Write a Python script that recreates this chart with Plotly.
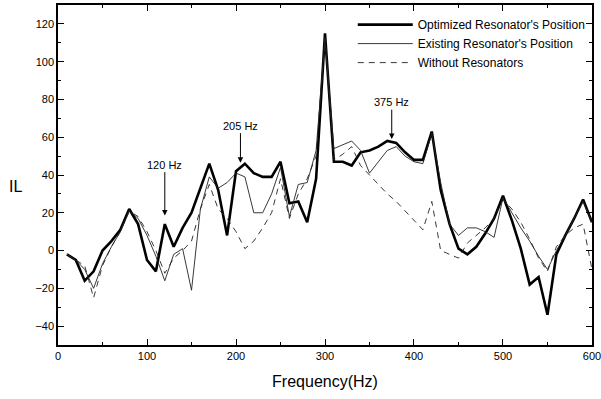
import plotly.graph_objects as go

freq = list(range(10, 601, 10))

optimized = [-2, -5, -16, -11, 0, 5, 11, 22, 14, -5, -11, 14, 2, 12, 20, 33, 46, 32, 8, 42,
             46, 41, 39, 39, 47, 25, 26, 15, 38, 115, 47, 47, 45, 52, 53, 55, 58, 57, 52, 48,
             48, 63, 32, 14, 1, -2, 2, 9, 17, 29, 16, 1, -18, -14, -34, -2, 8, 17, 27, 15]

existing = [-2, -5, -10, -20, -7, 2, 10, 21, 17, 8, -3, -16, -2, 1, -21, 22, 39, 33, 36, 41,
            39, 20, 20, 30, 44, 18, 35, 36, 53, 112, 54, 56, 58, 53, 41, 47, 53, 55, 50, 47,
            46, 62, 36, 14, 8, 12, 12, 10, 7, 28, 20, 12, 5, -3, -10, 0, 8, 17, 26, 15]

without = [-2, -5, -8, -25, -8, 2, 10, 21, 18, 10, 0, -12, -4, 0, 5, 22, 35, 22, 17, 10,
           1, 5, 12, 20, 38, 17, 30, 38, 50, 113, 48, 51, 55, 45, 40, 35, 30, 26, 21, 16,
           11, 26, 0, -2, -4, 4, 8, 12, 17, 27, 22, 15, 6, -4, -11, 2, 8, 12, 14, -10]

annot_freq = [120, 205, 375]
annot_val = [18, 46, 58.5]
annot_text = ["120 Hz", "205 Hz", "375 Hz"]
annot_len = [-52, -38, -38]

x_ticks = [0, 100, 200, 300, 400, 500, 600]
y_ticks = [-40, -20, 0, 20, 40, 60, 80, 100, 120]

FONT = "Liberation Sans, Arial, sans-serif"

fig = go.Figure()
fig.add_trace(go.Scatter(x=freq, y=optimized, mode="lines", name="Optimized Resonator's Position",
                         line=dict(color="black", width=2.6)))
fig.add_trace(go.Scatter(x=freq, y=existing, mode="lines", name="Existing Resonator's Position",
                         line=dict(color="#222", width=0.9)))
fig.add_trace(go.Scatter(x=freq, y=without, mode="lines", name="Without Resonators",
                         line=dict(color="#222", width=0.9, dash="6px,5px")))

for f, v, t, a in zip(annot_freq, annot_val, annot_text, annot_len):
    fig.add_annotation(x=f, y=v, text=t, showarrow=True, arrowhead=2, arrowsize=1.1,
                       arrowwidth=1, arrowcolor="black", ax=0, ay=a, standoff=1,
                       font=dict(family=FONT, size=11, color="black"))

fig.add_annotation(x=-0.079, y=0.465, xref="paper", yref="paper", text="IL", showarrow=False,
                   xanchor="center", yanchor="middle",
                   font=dict(family=FONT, size=16, color="black"))

axis_common = dict(showline=True, linecolor="black", linewidth=1.5, mirror="ticks",
                   ticks="inside", ticklen=6, tickcolor="black", showgrid=False, zeroline=False,
                   automargin=False,
                   tickfont=dict(family=FONT, size=11, color="black"))

fig.update_xaxes(range=[0, 600.01], tickvals=x_ticks, ticklabeloverflow="allow",
                 minor=dict(ticks="inside", ticklen=3, dtick=50, tickcolor="black"),
                 title=dict(text="Frequency(Hz)", font=dict(family=FONT, size=16, color="black"),
                            standoff=15),
                 **axis_common)
fig.update_yaxes(range=[-50, 130], tickvals=y_ticks,
                 minor=dict(ticks="inside", ticklen=3, dtick=10, tickcolor="black"),
                 **axis_common)

fig.update_layout(
    width=601, height=399,
    margin=dict(l=58, r=9, t=5, b=54),
    paper_bgcolor="white", plot_bgcolor="white",
    showlegend=True,
    legend=dict(x=0.552, y=0.985, xanchor="left", yanchor="top", bgcolor="rgba(0,0,0,0)",
                font=dict(family=FONT, size=12, color="black"), itemwidth=55,
                tracegroupgap=0),
)

fig.write_html("out.html", post_script="document.body.style.margin='0';",
               config={"displayModeBar": False})
